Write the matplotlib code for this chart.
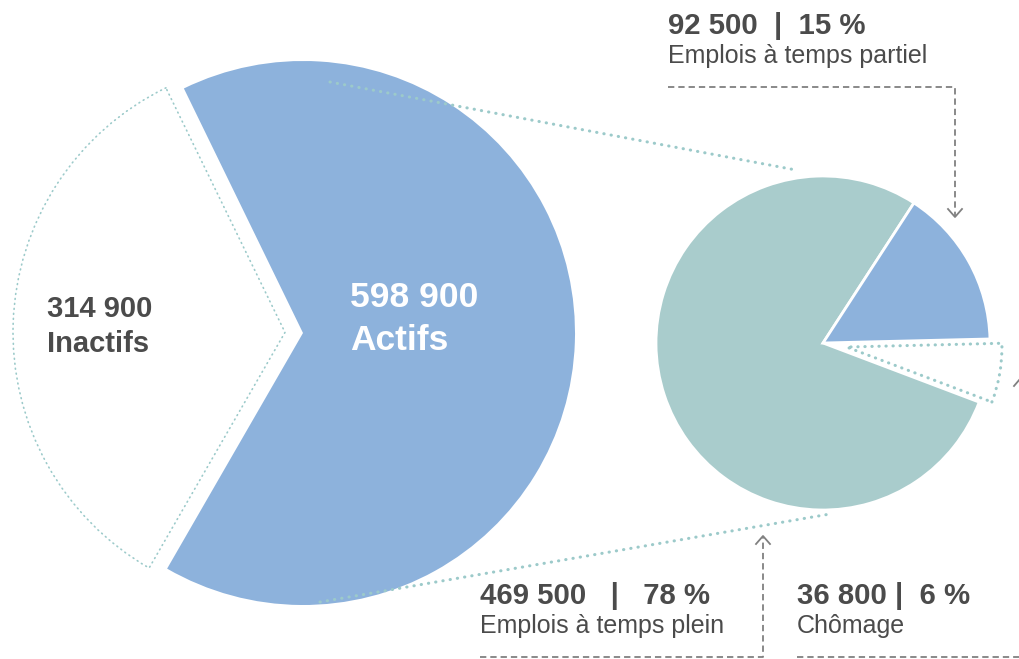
import matplotlib
matplotlib.use("Agg")
import matplotlib.pyplot as plt

# population split
pop_labels = ["Actifs", "Inactifs"]
pop_values = [598900, 314900]

# split of the active population
emp_labels = ["Emplois à temps plein", "Emplois à temps partiel", "Chômage"]
emp_values = [469500, 92500, 36800]
emp_pct = [78, 15, 6]

BLUE = "#8db2dc"
TEAL = "#a9cccc"
DOT = "#9ccaca"
TXT = "#4b4b4b"
GREY = "#808080"
W, H = 1020, 659

plt.rcParams["font.family"] = ["Liberation Sans", "DejaVu Sans"]


def fmt(v):
    return f"{v:,}".replace(",", " ")


def Y(y):
    return H - y


fig = plt.figure(figsize=(W / 100, H / 100), dpi=100)
ax = fig.add_axes([0, 0, 1, 1])

# big pie
r1 = 272
share_act = pop_values[0] / sum(pop_values)
big, _ = ax.pie(pop_values, center=(303, Y(333)), radius=r1,
                startangle=-180 * share_act - 2, explode=[0, 18],
                colors=[BLUE, "white"], frame=True)
big[0].set_edgecolor("none")
big[1].set_edgecolor(DOT)
big[1].set_linewidth(1.2)
big[1].set_linestyle((0, (0.5, 2.5)))
big[1].set_capstyle("round")

# small pie
r2 = 167
c2 = (823, Y(343))
tot = sum(emp_values)
start = 57 + 360 * emp_values[0] / tot
small, _ = ax.pie(emp_values, center=c2, radius=r2, startangle=start,
                  counterclock=False, explode=[0, 0, 24],
                  colors=[TEAL, BLUE, "white"], frame=True)
for w in small[:2]:
    w.set_edgecolor("white")
    w.set_linewidth(2)
small[2].set_radius(r2 * 0.93)
small[2].set_edgecolor(DOT)
small[2].set_linewidth(2.2)
small[2].set_linestyle((0, (0.1, 2.2)))
small[2].set_capstyle("round")

# connector lines between the two pies
dot_kw = dict(color=DOT, lw=2.2, linestyle=(0, (0.1, 2.3)),
              solid_capstyle="round", dash_capstyle="round", zorder=5)
ax.plot([330, 796], [Y(82), Y(170)], **dot_kw)
ax.plot([320, 830], [Y(602), Y(514)], **dot_kw)

# labels inside big pie
ax.text(350, Y(307), fmt(pop_values[0]), color="white", fontsize=25.5,
        fontweight="bold", va="baseline")
ax.text(350, Y(350), pop_labels[0], color="white", fontsize=25.5,
        fontweight="bold", va="baseline")
ax.text(47, Y(317), fmt(pop_values[1]), color=TXT, fontsize=21,
        fontweight="bold", va="baseline")
ax.text(47, Y(352), pop_labels[1], color=TXT, fontsize=21,
        fontweight="bold", va="baseline")

# annotations for the small pie
seps = ["   |   ", "  |  ", " |  "]
anchors = [(480, 604), (668, 34), (797, 604)]
for i, (x, y) in enumerate(anchors):
    ax.text(x, Y(y), fmt(emp_values[i]) + seps[i] + f"{emp_pct[i]} %",
            color=TXT, fontsize=21.2, fontweight="bold", va="baseline")
    ax.text(x, Y(y + 29), emp_labels[i], color=TXT, fontsize=18,
            va="baseline")

dash_kw = dict(color=GREY, lw=1.3, linestyle=(0, (3.5, 2.2)), zorder=6)
arr_kw = dict(color=GREY, lw=1.3, zorder=6)
# part-time
ax.plot([668, 955, 955], [Y(87), Y(87), Y(216)], **dash_kw)
ax.plot([948, 955, 962], [Y(209), Y(217), Y(209)], **arr_kw)
# full-time
ax.plot([480, 763, 763], [Y(657), Y(657), Y(537)], **dash_kw)
ax.plot([756, 763, 770], [Y(544), Y(536), Y(544)], **arr_kw)
# unemployment
ax.plot([797, 1020], [Y(657), Y(657)], **dash_kw)
ax.plot([1014, 1020], [Y(386), Y(379)], **arr_kw)

ax.set_xlim(0, W)
ax.set_ylim(0, H)
ax.set_aspect("equal")
ax.axis("off")

fig.savefig("out.png", dpi=100)
plt.close(fig)
